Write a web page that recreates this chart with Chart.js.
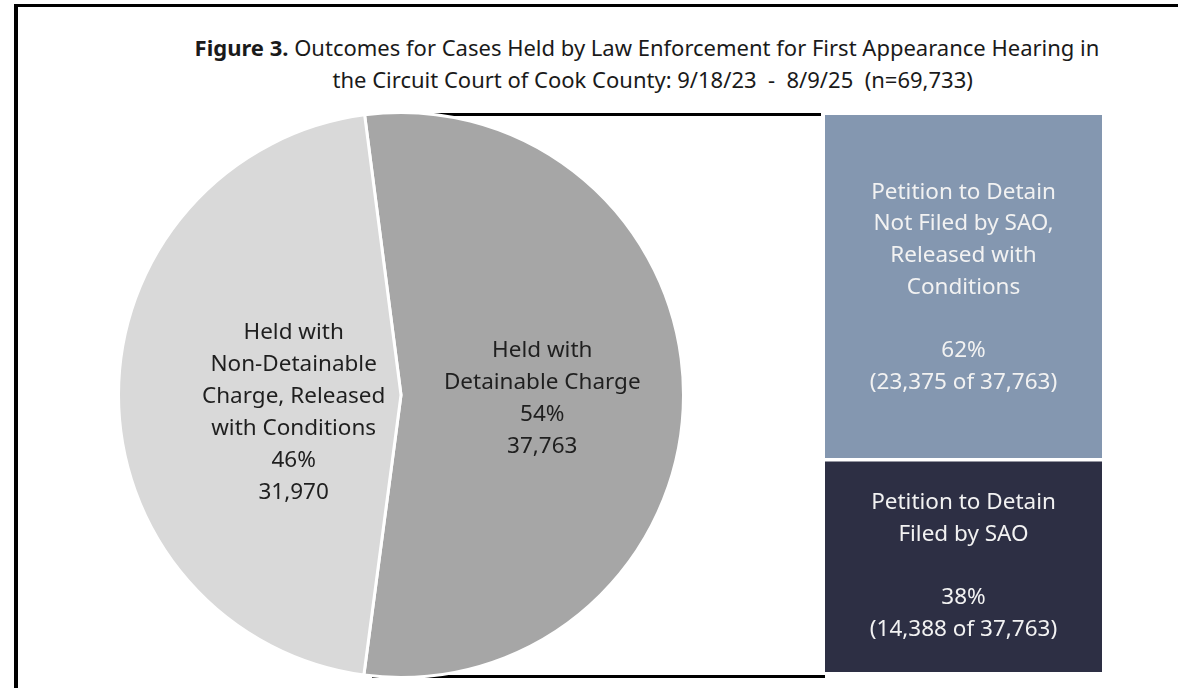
<!DOCTYPE html>
<html>
<head>
<meta charset="utf-8">
<script src="https://cdn.jsdelivr.net/npm/chart.js@4/dist/chart.umd.min.js"></script>
<style>
  html, body { margin: 0; padding: 0; background: #fff; }
  body { width: 1178px; height: 688px; position: relative; overflow: hidden; font-family: "Noto Sans", sans-serif; }
  .frame-top { position: absolute; left: 14px; top: 4px; width: 1164px; height: 3px; background: #000; }
  .frame-left { position: absolute; left: 14px; top: 4px; width: 4px; height: 684px; background: #000; }
  .title { position: absolute; left: 100px; width: 1094px; top: 31px; text-align: center; font-size: 22px; line-height: 32px; color: #1a1a1a; white-space: pre; }
  .title b { font-weight: 700; }
  .link { position: absolute; height: 3px; background: #000; }
  #pieWrap { position: absolute; left: 117px; top: 111px; width: 568px; height: 568px; }
  #barWrap { position: absolute; left: 825px; top: 115px; width: 277px; height: 557px; }
</style>
</head>
<body>
<div class="frame-top"></div>
<div class="frame-left"></div>
<div class="title"><b>Figure 3.</b> Outcomes for Cases Held by Law Enforcement for First Appearance Hearing in
  the Circuit Court of Cook County: 9/18/23  -  8/9/25  (n=69,733)</div>
<div class="link" style="left:422px; top:113px; width:399px;"></div>
<div class="link" style="left:372px; top:675px; width:453px;"></div>
<div id="pieWrap"><canvas id="pie"></canvas></div>
<div id="barWrap"><canvas id="bar"></canvas></div>
<script>
// pie: cases held by law enforcement
const pieNames = ['Held with\nDetainable Charge', 'Held with\nNon-Detainable\nCharge, Released\nwith Conditions'];
const pieValues = [37763, 31970];
const pieColors = ['#a6a6a6', '#d9d9d9'];

// bar: outcomes of the detainable cases
const barNames = ['Petition to Detain\nFiled by SAO', 'Petition to Detain\nNot Filed by SAO,\nReleased with\nConditions'];
const barValues = [14388, 23375];
const barColors = ['#2d2f44', '#8497b0'];

const fmt = n => n.toLocaleString('en-US');
const pieTotal = pieValues.reduce((a, b) => a + b, 0);
const barTotal = barValues.reduce((a, b) => a + b, 0);

function drawLines(ctx, lines, x, y, lh) {
  const top = y - (lines.length - 1) * lh / 2;
  lines.forEach((t, i) => ctx.fillText(t, x, top + i * lh));
}

const pieLabels = {
  id: 'pieLabels',
  afterDatasetsDraw(chart, args, opts) {
    const ctx = chart.ctx;
    const meta = chart.getDatasetMeta(0);
    ctx.save();
    ctx.font = '22.5px "Noto Sans", sans-serif';
    ctx.fillStyle = '#1f1f1f';
    ctx.textAlign = 'center';
    ctx.textBaseline = 'middle';
    meta.data.forEach((arc, i) => {
      const p = arc.getProps(['x', 'y', 'startAngle', 'endAngle', 'outerRadius'], true);
      const mid = (p.startAngle + p.endAngle) / 2;
      const r = p.outerRadius * opts.radius[i];
      const cx = p.x + Math.cos(mid) * r;
      const cy = p.y + Math.sin(mid) * r + opts.dy[i];
      const pct = Math.round(pieValues[i] / pieTotal * 100) + '%';
      const lines = pieNames[i].split('\n').concat([pct, fmt(pieValues[i])]);
      drawLines(ctx, lines, cx, cy, 32);
    });
    ctx.restore();
  }
};

const barLabels = {
  id: 'barLabels',
  afterDatasetsDraw(chart) {
    const ctx = chart.ctx;
    ctx.save();
    ctx.font = '22.5px "Noto Sans", sans-serif';
    ctx.fillStyle = '#f2f2f2';
    ctx.textAlign = 'center';
    ctx.textBaseline = 'middle';
    chart.data.datasets.forEach((ds, i) => {
      const bar = chart.getDatasetMeta(i).data[0];
      const p = bar.getProps(['x', 'y', 'base'], true);
      const pct = Math.round(barValues[i] / barTotal * 100) + '%';
      const lines = barNames[i].split('\n').concat(['', pct, '(' + fmt(barValues[i]) + ' of ' + fmt(barTotal) + ')']);
      drawLines(ctx, lines, p.x, (p.y + p.base) / 2, 31.7);
    });
    ctx.restore();
  }
};

new Chart(document.getElementById('pie'), {
  type: 'pie',
  data: {
    labels: pieNames,
    datasets: [{
      data: pieValues,
      backgroundColor: pieColors,
      borderColor: '#ffffff',
      borderWidth: 3
    }]
  },
  options: {
    responsive: true,
    maintainAspectRatio: false,
    animation: false,
    rotation: -7.4,
    layout: { padding: 0 },
    plugins: {
      legend: { display: false },
      tooltip: { enabled: false },
      pieLabels: { radius: [0.5, 0.38], dy: [3, 18] }
    }
  },
  plugins: [pieLabels]
});

new Chart(document.getElementById('bar'), {
  type: 'bar',
  data: {
    labels: ['Held with Detainable Charge'],
    datasets: barNames.map((name, i) => ({
      label: name,
      data: [barValues[i]],
      backgroundColor: barColors[i],
      borderColor: '#ffffff',
      borderWidth: i === 0 ? { top: 2 } : { bottom: 2 },
      borderSkipped: false,
      barPercentage: 1,
      categoryPercentage: 1
    }))
  },
  options: {
    responsive: true,
    maintainAspectRatio: false,
    animation: false,
    layout: { padding: 0 },
    scales: {
      x: { display: false, stacked: true },
      y: { display: false, stacked: true, min: 0, max: barTotal }
    },
    plugins: {
      legend: { display: false },
      tooltip: { enabled: false }
    }
  },
  plugins: [barLabels]
});
</script>
</body>
</html>
